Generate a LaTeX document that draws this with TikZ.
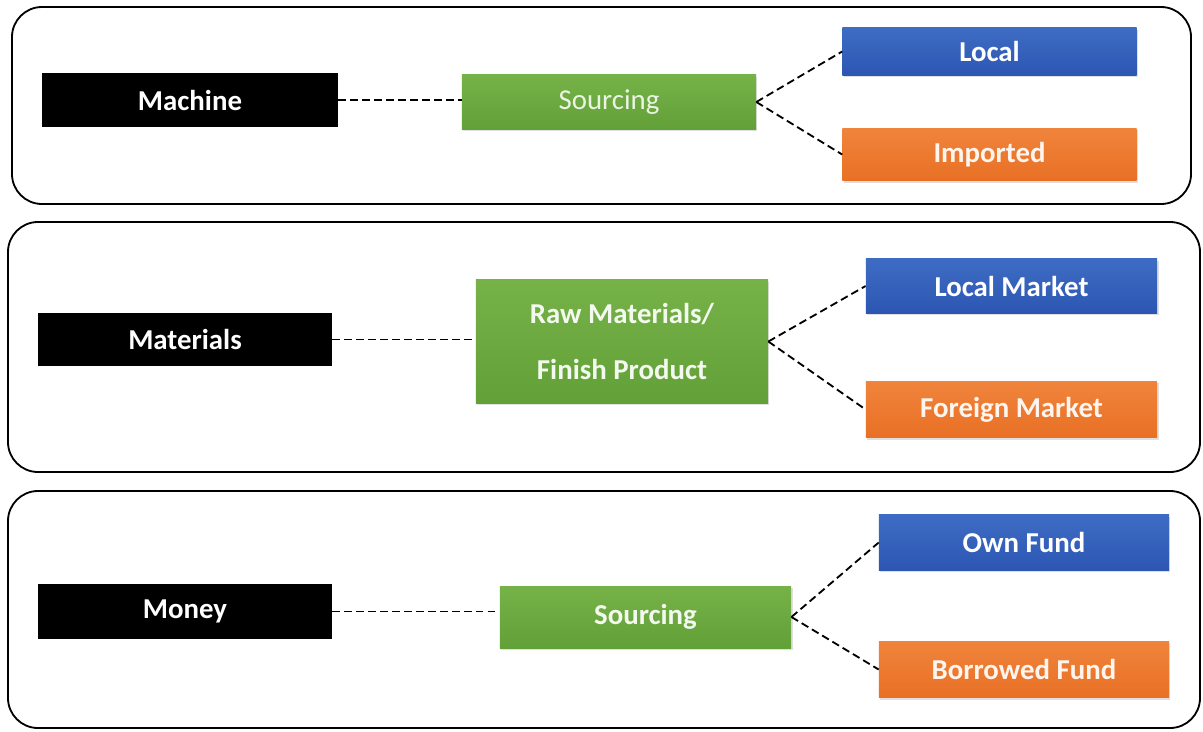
\documentclass[tikz,border=0pt]{standalone}
\usepackage{fontspec}
\setmainfont{Carlito}
\usetikzlibrary{shadows}
\definecolor{boxblue}{RGB}{62,108,196}
\definecolor{boxblued}{RGB}{44,86,178}
\definecolor{boxgreen}{RGB}{118,178,72}
\definecolor{boxgreend}{RGB}{98,160,56}
\definecolor{boxorange}{RGB}{240,132,60}
\definecolor{boxoranged}{RGB}{232,112,36}
\begin{document}
\begin{tikzpicture}[x=0.025cm,y=-0.025cm,
  panel/.style={draw,line width=1.3pt,rounded corners=0.75cm},
  box/.style={minimum width=7.35cm,minimum height=1.35cm,inner sep=0pt,
    text=white,font=\fontsize{20.5}{25}\selectfont\bfseries,align=center},
  head/.style={box,fill=black},
  mid/.style={box,top color=boxgreen,bottom color=boxgreend,text=white!92!boxgreen,
    drop shadow={opacity=0.25,shadow xshift=1pt,shadow yshift=-1.5pt}},
  up/.style={box,top color=boxblue,bottom color=boxblued,
    drop shadow={opacity=0.25,shadow xshift=1pt,shadow yshift=-1.5pt}},
  down/.style={box,top color=boxorange,bottom color=boxoranged,text=white!92!boxorange,
    drop shadow={opacity=0.25,shadow xshift=1pt,shadow yshift=-1.5pt}},
  link/.style={draw,line width=1.3pt,dash pattern=on 5.5pt off 3pt}]
  \useasboundingbox (0,0) rectangle (1203,731);

  \draw[panel] (12,7) rectangle (1191,204);
  \draw[panel] (8,222) rectangle (1200,472);
  \draw[panel] (8,491) rectangle (1200,728);

  \node[head,minimum width=7.4cm] (machine) at (190,100) {Machine};
  \node[mid,font=\fontsize{20.5}{25}\selectfont,text=white!85!boxgreen] (srcA) at (609,102) {Sourcing};
  \node[up,minimum height=1.18cm] (local) at (989.5,51.5) {Local};
  \node[down,minimum height=1.32cm] (imported) at (989.5,154.5) {Imported};

  \node[head,minimum height=1.32cm] (materials) at (185,339.5) {Materials};
  \node[mid,minimum width=7.3cm,minimum height=3.08cm,font=\fontsize{20.5}{40}\selectfont\bfseries] (raw) at (622,341.5) {Raw Materials/\\Finish Product};
  \node[up,minimum width=7.28cm] (lmarket) at (1011.5,286) {Local Market};
  \node[down,minimum width=7.28cm,minimum height=1.42cm] (fmarket) at (1011.5,409.5) {Foreign Market};

  \node[head,minimum height=1.38cm] (money) at (185,611.5) {Money};
  \node[mid,minimum width=7.28cm,minimum height=1.55cm] (srcC) at (645.5,617) {Sourcing};
  \node[up,minimum width=7.25cm,minimum height=1.38cm] (own) at (1024,542.5) {Own Fund};
  \node[down,minimum width=7.25cm,minimum height=1.42cm] (borrowed) at (1024,669.5) {Borrowed Fund};

  \draw[link] (machine.east) -- (machine.east -| srcA.west);
  \draw[link] (srcA.east) -- (local.west);
  \draw[link] (srcA.east) -- (imported.west);
  \draw[link] (materials.east) -- (materials.east -| raw.west);
  \draw[link] (raw.east) -- (lmarket.west);
  \draw[link] (raw.east) -- (fmarket.west);
  \draw[link] (money.east) -- (money.east -| srcC.west);
  \draw[link] (srcC.east) -- (own.west);
  \draw[link] (srcC.east) -- (borrowed.west);
\end{tikzpicture}
\end{document}
